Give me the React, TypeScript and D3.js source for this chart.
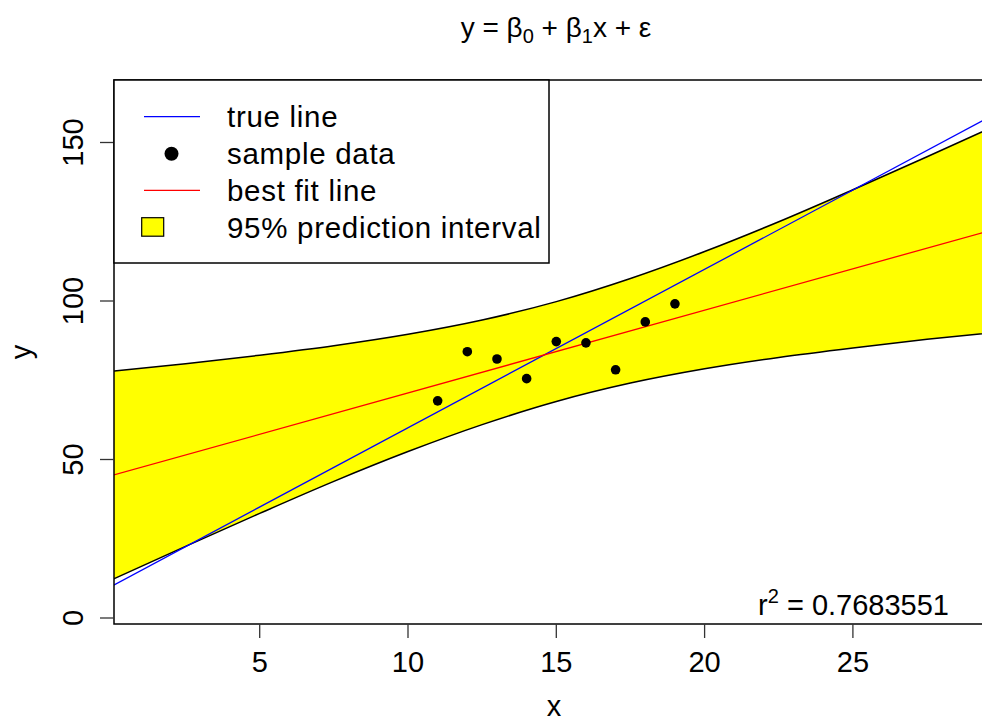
import React, { useEffect, useRef } from "react";
import * as d3 from "d3";

// sample data
const sampleX = [11, 12, 13, 14, 15, 16, 17, 18, 19];
const sampleY = [68.5, 84.0, 81.7, 75.5, 87.2, 86.8, 78.3, 93.4, 99.1];

// lines (end points)
const lineX = [0, 30];
const trueY = [10, 160];
const fitY = [44.9, 123.2];

// 95% prediction interval band
const bandX = [0, 2.5, 5, 7.5, 10, 12.5, 15, 17.5, 20, 22.5, 25, 27.5, 30];
const bandUpper = [77.8, 80.2, 82.9, 85.9, 89.5, 94.0, 99.8, 107.1, 115.6, 125.0, 135.1, 145.5, 156.1];
const bandLower = [12.0, 22.6, 33.0, 43.1, 52.5, 61.0, 68.3, 74.1, 78.6, 82.2, 85.2, 87.9, 90.3];

const xTicks = [5, 10, 15, 20, 25];
const yTicks = [0, 50, 100, 150];
const legendLabels = ["true line", "sample data", "best fit line", "95% prediction interval"];

const FONT = "'Liberation Sans', Arial, Helvetica, sans-serif";

const App: React.FC = () => {
  const ref = useRef<SVGSVGElement>(null);

  useEffect(() => {
    if (!ref.current) return;
    const svg = d3.select(ref.current);
    svg.selectAll("*").remove();

    const box = { left: 114, top: 80, right: 1001, bottom: 624 };

    const x = d3.scaleLinear().domain([0, 30]).range([111.4, 1001.2]);
    const y = d3.scaleLinear().domain([0, 150]).range([618, 142.5]);

    svg.append("rect").attr("width", 982).attr("height", 723).attr("fill", "#fff");

    svg.append("clipPath").attr("id", "plotclip")
      .append("rect")
      .attr("x", box.left).attr("y", box.top)
      .attr("width", box.right - box.left).attr("height", box.bottom - box.top);

    const plot = svg.append("g").attr("clip-path", "url(#plotclip)");

    const band = bandX.map((v, i) => ({ x: v, hi: bandUpper[i], lo: bandLower[i] }));

    // band fill
    plot.append("path")
      .datum(band)
      .attr("fill", "#ffff00")
      .attr("d", d3.area<typeof band[number]>()
        .x((d) => x(d.x))
        .y0((d) => y(d.lo))
        .y1((d) => y(d.hi))
        .curve(d3.curveMonotoneX));

    // band edges
    [bandUpper, bandLower].forEach((arr) => {
      plot.append("path")
        .datum(bandX.map((v, i) => [v, arr[i]] as [number, number]))
        .attr("fill", "none")
        .attr("stroke", "#000")
        .attr("stroke-width", 1.5)
        .attr("d", d3.line<[number, number]>()
          .x((d) => x(d[0]))
          .y((d) => y(d[1]))
          .curve(d3.curveMonotoneX));
    });

    // true line and fit line
    const straight = d3.line<[number, number]>().x((d) => x(d[0])).y((d) => y(d[1]));
    plot.append("path")
      .datum(lineX.map((v, i) => [v, trueY[i]] as [number, number]))
      .attr("fill", "none").attr("stroke", "#0000ff").attr("stroke-width", 1.3)
      .attr("d", straight);
    plot.append("path")
      .datum(lineX.map((v, i) => [v, fitY[i]] as [number, number]))
      .attr("fill", "none").attr("stroke", "#ff0000").attr("stroke-width", 1.3)
      .attr("d", straight);

    // points
    plot.selectAll(".pt")
      .data(sampleX.map((v, i) => [v, sampleY[i]]))
      .enter()
      .append("circle")
      .attr("cx", (d) => x(d[0]))
      .attr("cy", (d) => y(d[1]))
      .attr("r", 4.8)
      .attr("fill", "#000");

    // plot box
    svg.append("rect")
      .attr("x", box.left).attr("y", box.top)
      .attr("width", box.right - box.left).attr("height", box.bottom - box.top)
      .attr("fill", "none").attr("stroke", "#000").attr("stroke-width", 1.5);

    // x axis
    const xa = svg.append("g");
    xTicks.forEach((t) => {
      xa.append("line")
        .attr("x1", x(t)).attr("x2", x(t))
        .attr("y1", box.bottom).attr("y2", box.bottom + 14)
        .attr("stroke", "#333").attr("stroke-width", 1.3);
      xa.append("text")
        .attr("x", x(t)).attr("y", 672)
        .attr("text-anchor", "middle")
        .style("font-family", FONT).style("font-size", "29px")
        .text(t);
    });

    // y axis
    const ya = svg.append("g");
    yTicks.forEach((t) => {
      ya.append("line")
        .attr("x1", box.left - 14).attr("x2", box.left)
        .attr("y1", y(t)).attr("y2", y(t))
        .attr("stroke", "#333").attr("stroke-width", 1.3);
      ya.append("text")
        .attr("transform", `translate(83,${y(t)}) rotate(-90)`)
        .attr("text-anchor", "middle")
        .style("font-family", FONT).style("font-size", "29px")
        .text(t);
    });

    // axis labels
    svg.append("text")
      .attr("x", 554).attr("y", 716)
      .attr("text-anchor", "middle")
      .style("font-family", FONT).style("font-size", "29px")
      .text("x");
    svg.append("text")
      .attr("transform", `translate(31,${(box.top + box.bottom) / 2}) rotate(-90)`)
      .attr("text-anchor", "middle")
      .style("font-family", FONT).style("font-size", "29px")
      .text("y");

    // title
    const title = svg.append("text")
      .attr("x", 556).attr("y", 37)
      .attr("text-anchor", "middle")
      .style("font-family", FONT).style("font-size", "28px");
    title.append("tspan").text("y = β");
    title.append("tspan").attr("dy", 6).style("font-size", "20px").text("0");
    title.append("tspan").attr("dy", -6).text(" + β");
    title.append("tspan").attr("dy", 6).style("font-size", "20px").text("1");
    title.append("tspan").attr("dy", -6).text("x + ε");

    // r squared
    const r2 = svg.append("text")
      .attr("x", 949).attr("y", 615)
      .attr("text-anchor", "end")
      .style("font-family", FONT).style("font-size", "29px");
    r2.append("tspan").text("r");
    r2.append("tspan").attr("dy", -12).style("font-size", "20px").text("2");
    r2.append("tspan").attr("dy", 12).text(" = 0.7683551");

    // legend
    const lg = svg.append("g");
    lg.append("rect")
      .attr("x", box.left).attr("y", box.top)
      .attr("width", 435).attr("height", 183)
      .attr("fill", "#fff").attr("stroke", "#000").attr("stroke-width", 1.5);
    const rowY = [116.7, 153.7, 190.3, 227];
    lg.append("line")
      .attr("x1", 144).attr("x2", 200).attr("y1", rowY[0]).attr("y2", rowY[0])
      .attr("stroke", "#0000ff").attr("stroke-width", 1.3);
    lg.append("circle")
      .attr("cx", 171.5).attr("cy", rowY[1]).attr("r", 7).attr("fill", "#000");
    lg.append("line")
      .attr("x1", 144).attr("x2", 200).attr("y1", rowY[2]).attr("y2", rowY[2])
      .attr("stroke", "#ff0000").attr("stroke-width", 1.3);
    lg.append("rect")
      .attr("x", 141.7).attr("y", rowY[3] - 9.3).attr("width", 22).attr("height", 18.5)
      .attr("fill", "#ffff00").attr("stroke", "#000").attr("stroke-width", 1.2);
    legendLabels.forEach((lab, i) => {
      lg.append("text")
        .attr("x", 227).attr("y", rowY[i] + 10.5)
        .style("font-family", FONT).style("font-size", "29.5px")
        .style("letter-spacing", "0.7px")
        .text(lab);
    });
  }, []);

  return (
    <div style={{ position: "fixed", left: 0, top: 0 }}>
      <svg ref={ref} width={982} height={723} style={{ display: "block" }} />
    </div>
  );
};

export default App;
